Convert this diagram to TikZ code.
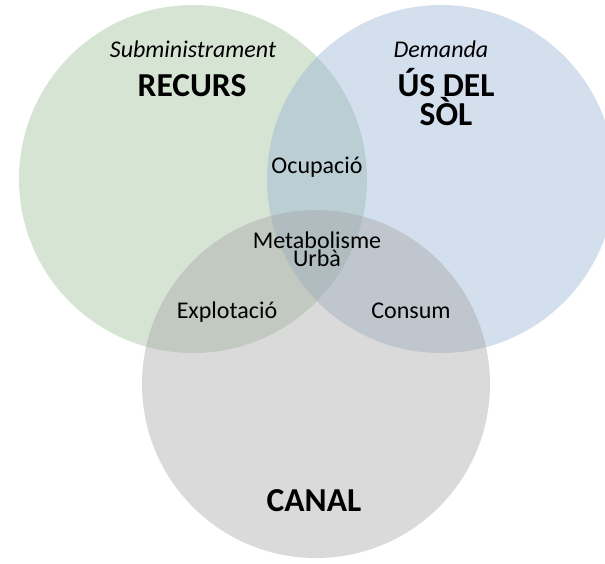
\documentclass[tikz,border=0pt]{standalone}
\usepackage{fontspec}
\setmainfont{Carlito}
\definecolor{cgreen}{RGB}{152,188,148}
\definecolor{cblue}{RGB}{145,175,210}
\definecolor{cgrey}{RGB}{162,162,162}
\begin{document}
\begin{tikzpicture}[x=1pt,y=-1pt,
  venn/.style={circle,minimum size=348pt,inner sep=0pt,fill opacity=0.4},
  small/.style={font=\fontsize{24}{24}\selectfont,anchor=base,inner sep=0pt},
  smallit/.style={font=\fontsize{24}{24}\selectfont\itshape,anchor=base,inner sep=0pt},
  big/.style={font=\fontsize{33.5}{33.5}\selectfont\bfseries,anchor=base,inner sep=0pt}]
\useasboundingbox (0,0) rectangle (605,563);
\clip (0,0) rectangle (605,563);
\node[venn,fill=cgreen] (recurs) at (193,179) {};
\node[venn,fill=cblue] (sol) at (441,179) {};
\node[venn,fill=cgrey] (canal) at (316,384) {};
\node[smallit] (sub) at (193,57) {Subministrament};
\node[big] (rec) at (192,96) {RECURS};
\node[smallit] (dem) at (441,57) {Demanda};
\node[big] (us) at (446,96) {ÚS DEL};
\node[big] (so) at (446,125) {SÒL};
\node[small] (ocu) at (317,173) {Ocupació};
\node[small] (met) at (317,248) {Metabolisme};
\node[small] (urb) at (317,266) {Urbà};
\node[small] (exp) at (227,318) {Explotació};
\node[small] (con) at (411,318) {Consum};
\node[big] (can) at (314,511) {CANAL};
\end{tikzpicture}
\end{document}
